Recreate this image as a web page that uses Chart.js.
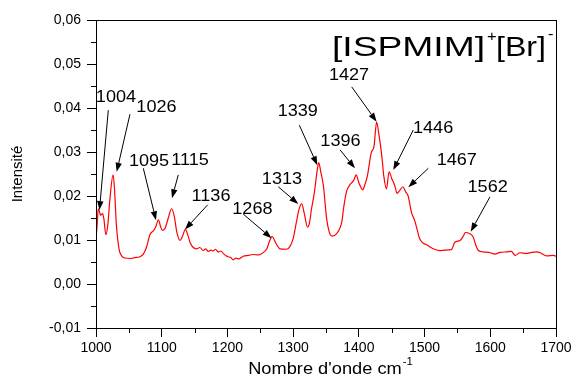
<!DOCTYPE html>
<html>
<head>
<meta charset="utf-8">
<script src="https://cdn.jsdelivr.net/npm/chart.js@4/dist/chart.umd.min.js"></script>
<style>
  html, body { margin: 0; padding: 0; background: #fff; }
  #wrap { width: 576px; height: 379px; }
</style>
</head>
<body>
<div id="wrap"><canvas id="c"></canvas></div>
<script>
// Raman spectrum of [ISPMIM]+[Br]- : [wavenumber (cm-1), intensity]
const spectrum = [
  [1000,0.0101],[1002,0.0140],[1003,0.0165],[1004,0.0171],[1007,0.0156],[1010,0.0160],[1012,0.0148],
  [1015,0.0112],[1018,0.0135],[1021,0.0190],[1026,0.0248],[1028,0.0220],[1031,0.0135],[1035,0.0080],
  [1039,0.0064],[1044,0.0059],[1052,0.0058],[1059,0.0060],[1067,0.0062],[1072,0.0068],[1077,0.0084],
  [1082,0.0112],[1088,0.0122],[1091,0.0130],[1095,0.0146],[1098,0.0132],[1101,0.0122],[1105,0.0126],
  [1110,0.0150],[1115,0.0171],[1119,0.0155],[1123,0.0118],[1128,0.0099],[1132,0.0110],[1136,0.0124],
  [1140,0.0110],[1143,0.0095],[1148,0.0083],[1153,0.0080],[1158,0.0083],[1163,0.0076],[1167,0.0080],
  [1171,0.0074],[1175,0.0077],[1178,0.0075],[1182,0.0079],[1186,0.0073],[1190,0.0075],[1194,0.0069],
  [1198,0.0064],[1201,0.0062],[1205,0.0060],[1209,0.0055],[1213,0.0059],[1217,0.0057],[1224,0.0063],
  [1232,0.0065],[1239,0.0067],[1247,0.0066],[1252,0.0069],[1260,0.0080],[1264,0.0097],[1268,0.0108],
  [1274,0.0092],[1280,0.0080],[1290,0.0079],[1295,0.0085],[1300,0.0103],[1305,0.0141],[1309,0.0170],
  [1313,0.0182],[1317,0.0160],[1322,0.0129],[1325,0.0140],[1328,0.0171],[1332,0.0205],[1335,0.0240],
  [1337,0.0262],[1339,0.0276],[1342,0.0255],[1346,0.0224],[1351,0.0148],[1355,0.0118],[1359,0.0109],
  [1366,0.0114],[1374,0.0141],[1377,0.0175],[1381,0.0209],[1387,0.0227],[1392,0.0235],[1396,0.0248],
  [1400,0.0230],[1406,0.0214],[1409,0.0225],[1413,0.0246],[1419,0.0299],[1423,0.0312],[1427,0.0368],
  [1430,0.0345],[1435,0.0290],[1438,0.0245],[1442,0.0216],[1446,0.0255],[1450,0.0240],[1455,0.0222],
  [1458,0.0206],[1462,0.0212],[1467,0.0221],[1471,0.0210],[1475,0.0200],[1480,0.0163],[1485,0.0144],
  [1489,0.0122],[1492,0.0105],[1496,0.0095],[1503,0.0089],[1513,0.0080],[1523,0.0076],[1531,0.0077],
  [1541,0.0078],[1546,0.0095],[1554,0.0099],[1559,0.0109],[1562,0.0117],[1568,0.0115],[1574,0.0107],
  [1578,0.0088],[1582,0.0076],[1589,0.0073],[1600,0.0071],[1607,0.0068],[1615,0.0072],[1625,0.0073],
  [1632,0.0074],[1638,0.0065],[1645,0.0071],[1655,0.0069],[1663,0.0072],[1671,0.0073],[1676,0.0071],
  [1686,0.0064],[1696,0.0065],[1700,0.0063]
];

// Peak annotations: label text, label centre, arrow start and arrow tip (data units)
const peakLabels = ['1004','1026','1095','1115','1136','1268','1313','1339','1396','1427','1446','1467','1562'];
const labelPos = [[1030.4,0.0423],[1092,0.0402],[1080.7,0.0278],[1143,0.0280],[1175,0.0198],[1238,0.0170],
  [1283,0.0238],[1307,0.0391],[1372,0.0324],[1385,0.0473],[1513,0.0353],[1549,0.0280],[1596,0.0218]];
const arrowTail = [[1018.7,0.0395],[1051.7,0.0386],[1072,0.0263],[1125.2,0.0248],[1170,0.0180],[1224,0.0159],
  [1277.4,0.0221],[1309.4,0.0361],[1371.3,0.0305],[1389.1,0.0448],[1482.8,0.0350],[1505.7,0.0263],[1599.5,0.0198]];
const arrowTip = [[1005.3,0.0168],[1031.5,0.0255],[1091.3,0.0145],[1115.6,0.0195],[1135.4,0.0124],[1267.2,0.0104],
  [1307.8,0.0182],[1336.8,0.0270],[1394.1,0.0263],[1427.1,0.0369],[1452.4,0.0259],[1475.3,0.0220],[1570.2,0.0119]];

// Axis ranges and tick steps
const xRange = [1000, 1700];
const yRange = [-0.01, 0.06];
const xStep = 100, yStep = 0.01;

const FONT = "'Liberation Sans', Arial, sans-serif";
const STRETCH = 1.13;

function stretchedText(ctx, text, x, y, align, stretch) {
  ctx.save();
  ctx.translate(x, y);
  ctx.scale(stretch, 1);
  ctx.textAlign = align;
  ctx.fillText(text, 0, 0);
  ctx.restore();
}

function decimalComma(v) {
  if (Math.abs(v) < 1e-9) v = 0;
  return v.toFixed(2).replace('.', ',');
}

const decorations = {
  id: 'decorations',
  afterDraw(chart) {
    const {ctx, chartArea: a, scales: {x, y}} = chart;
    ctx.save();
    ctx.strokeStyle = '#000';
    ctx.fillStyle = '#000';
    ctx.lineWidth = 1;

    // frame
    ctx.strokeRect(Math.round(a.left) + 0.5, Math.round(a.top) + 0.5,
                   Math.round(a.right - a.left), Math.round(a.bottom - a.top));

    // minor ticks
    ctx.beginPath();
    for (let v = xRange[0] + xStep / 2; v < xRange[1]; v += xStep) {
      const px = Math.round(x.getPixelForValue(v)) + 0.5;
      ctx.moveTo(px, a.bottom); ctx.lineTo(px, a.bottom + 5);
    }
    for (let v = yRange[0] + yStep / 2; v < yRange[1]; v += yStep) {
      const py = Math.round(y.getPixelForValue(v)) + 0.5;
      ctx.moveTo(a.left, py); ctx.lineTo(a.left - 5, py);
    }
    ctx.stroke();

    // peak labels with arrows
    ctx.font = '16px ' + FONT;
    ctx.textBaseline = 'middle';
    peakLabels.forEach((t, i) => {
      const tx = x.getPixelForValue(labelPos[i][0]);
      const ty = y.getPixelForValue(labelPos[i][1]);
      stretchedText(ctx, t, tx, ty, 'center', STRETCH);
      const x0 = x.getPixelForValue(arrowTail[i][0]), y0 = y.getPixelForValue(arrowTail[i][1]);
      const x1 = x.getPixelForValue(arrowTip[i][0]), y1 = y.getPixelForValue(arrowTip[i][1]);
      const ang = Math.atan2(y1 - y0, x1 - x0);
      const len = 9, hw = 3.2;
      const bx = x1 - len * Math.cos(ang), by = y1 - len * Math.sin(ang);
      ctx.beginPath();
      ctx.moveTo(x0, y0); ctx.lineTo(bx, by);
      ctx.stroke();
      ctx.beginPath();
      ctx.moveTo(x1, y1);
      ctx.lineTo(bx + hw * Math.sin(ang), by - hw * Math.cos(ang));
      ctx.lineTo(bx - hw * Math.sin(ang), by + hw * Math.cos(ang));
      ctx.closePath();
      ctx.fill();
    });

    // compound name
    ctx.textBaseline = 'alphabetic';
    const base = a.top + 36;
    let cx = a.left + 236;
    ctx.font = '28px ' + FONT;
    const fit = (t, w) => { const m = ctx.measureText(t).width; return w / m; };
    const s1 = fit('[ISPMIM]', 153);
    stretchedText(ctx, '[ISPMIM]', cx, base, 'left', s1);
    cx += 155;
    ctx.font = '15px ' + FONT;
    stretchedText(ctx, '+', cx, base - 15, 'left', 1.1);
    cx += 9;
    ctx.font = '28px ' + FONT;
    const s2 = fit('[Br]', 50);
    stretchedText(ctx, '[Br]', cx, base, 'left', s2);
    cx += 52;
    ctx.font = '15px ' + FONT;
    stretchedText(ctx, '-', cx, base - 17, 'left', 1.1);

    // x axis title
    const xs = 1.14;
    ctx.font = '16px ' + FONT;
    const main = "Nombre d'onde cm";
    const wMain = ctx.measureText(main).width * xs;
    ctx.font = '10px ' + FONT;
    const wSup = ctx.measureText('-1').width * xs;
    const startX = (a.left + a.right) / 2 - (wMain + wSup) / 2 + 4;
    const ty = 374;
    ctx.font = '16px ' + FONT;
    stretchedText(ctx, main, startX, ty, 'left', xs);
    ctx.font = '10px ' + FONT;
    stretchedText(ctx, '-1', startX + wMain + 1, ty - 9, 'left', xs);
    ctx.restore();
  }
};

new Chart(document.getElementById('c'), {
  type: 'line',
  data: {
    datasets: [{
      data: spectrum.map(p => ({x: p[0], y: p[1]})),
      borderColor: '#ff0000',
      borderWidth: 1.2,
      pointRadius: 0,
      fill: false,
      cubicInterpolationMode: 'monotone'
    }]
  },
  options: {
    responsive: true,
    maintainAspectRatio: false,
    animation: false,
    layout: { padding: { top: 20, right: 20, left: 0, bottom: 0 } },
    plugins: { legend: { display: false }, tooltip: { enabled: false } },
    scales: {
      x: {
        type: 'linear',
        min: xRange[0], max: xRange[1],
        afterFit(s) { s.height = 51; },
        border: { display: true, color: '#000', width: 1 },
        grid: { drawOnChartArea: false, drawTicks: true, tickLength: 9, color: '#000' },
        ticks: {
          stepSize: xStep, padding: 3, color: '#000', maxRotation: 0,
          font: { family: FONT, size: 14 },
          callback: v => String(v)
        },
        title: { display: false }
      },
      y: {
        min: yRange[0], max: yRange[1],
        afterFit(s) { s.width = 96; },
        border: { display: true, color: '#000', width: 1 },
        grid: { drawOnChartArea: false, drawTicks: true, tickLength: 9, color: '#000' },
        ticks: {
          stepSize: yStep, padding: 6, color: '#000',
          font: { family: FONT, size: 14 },
          callback: v => decimalComma(v)
        },
        title: {
          display: true, text: 'Intensité', color: '#000',
          font: { family: FONT, size: 15 },
          padding: { top: 9, bottom: 0 }
        }
      }
    }
  },
  plugins: [decorations]
});
</script>
</body>
</html>
